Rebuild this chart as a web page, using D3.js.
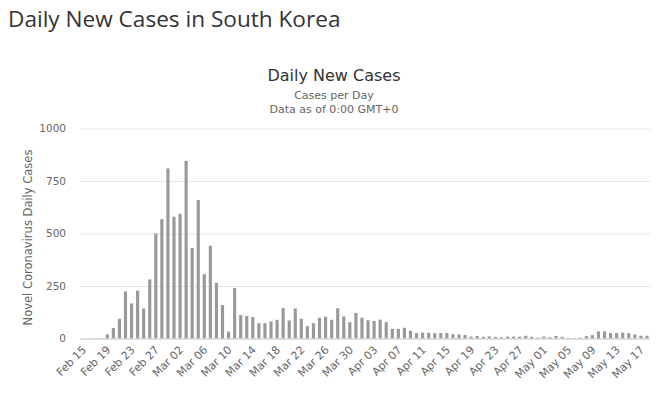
<!DOCTYPE html>
<html>
<head>
<meta charset="utf-8">
<script src="https://cdn.jsdelivr.net/npm/d3@7"></script>
<style>
  body { margin: 0; background: #fff; }
  svg text { font-family: "DejaVu Sans", "Lucida Grande", sans-serif; }
</style>
</head>
<body>
<svg id="chart" width="660" height="395"></svg>
<script>
// days from Feb 15 to May 18 (2020)
const dates = d3.timeDay.range(new Date(2020, 1, 15), new Date(2020, 4, 19));

// daily new cases
const cases = [
  0, 0, 1, 1, 20, 50, 94, 224, 167, 228, 143, 281, 500, 568,      // Feb 15 - Feb 28
  810, 580, 594, 846, 431, 659, 306, 442, 265, 159, 33, 240,     // Feb 29 - Mar 11
  112, 107, 102, 73, 73, 81, 89, 145, 86, 143, 94, 59, 73,       // Mar 12 - Mar 24
  99, 104, 89, 144, 105, 78, 122, 99, 87, 84, 90, 78, 46,        // Mar 25 - Apr 06
  46, 51, 37, 26, 28, 27, 25, 26, 26, 21, 19, 17, 9, 12,         // Apr 07 - Apr 20
  8, 10, 8, 6, 9, 9, 9, 13, 8, 4, 9, 6, 12, 8, 3, 2, 4,          // Apr 21 - May 07
  11, 16, 34, 34, 26, 26, 28, 25, 19, 13, 13                     // May 08 - May 18
];

const yTicks = [0, 250, 500, 750, 1000];

const fmtLabel = d3.timeFormat("%b %d");
const data = dates.map((d, i) => ({ date: d, key: fmtLabel(d), value: cases[i] }));
const tickDates = data.filter((d, i) => i % 4 === 0).map(d => d.key);

const svg = d3.select("#chart");
const plotLeft = 80, plotRight = 650, plotTop = 128.5, plotBottom = 338.5;

const x = d3.scaleBand()
  .domain(data.map(d => d.key))
  .range([plotLeft, plotRight])
  .paddingInner(0.48)
  .paddingOuter(0.24);

const y = d3.scaleLinear()
  .domain([0, 1000])
  .range([plotBottom, plotTop]);

// page title
svg.append("text")
  .attr("x", 8)
  .attr("y", 27)
  .attr("fill", "#333")
  .style("font-family", "'Open Sans', sans-serif")
  .style("font-size", "22.6px")
  .text("Daily New Cases in South Korea");

// chart titles
const cx = 334;
svg.append("text")
  .attr("x", cx).attr("y", 81)
  .attr("text-anchor", "middle")
  .attr("fill", "#333")
  .style("font-size", "16px")
  .text("Daily New Cases");
svg.append("text")
  .attr("x", cx).attr("y", 99)
  .attr("text-anchor", "middle")
  .attr("fill", "#666")
  .style("font-size", "11px")
  .text("Cases per Day");
svg.append("text")
  .attr("x", cx).attr("y", 113)
  .attr("text-anchor", "middle")
  .attr("fill", "#666")
  .style("font-size", "11px")
  .text("Data as of 0:00 GMT+0");

// y grid + labels
const yAxis = d3.axisLeft(y)
  .tickValues(yTicks)
  .tickFormat(d3.format("d"))
  .tickSize(-(plotRight - plotLeft))
  .tickPadding(14);

const gy = svg.append("g")
  .attr("transform", `translate(${plotLeft},0)`)
  .call(yAxis);
gy.select(".domain").remove();
gy.selectAll(".tick line").attr("stroke", "#e6e6e6");
gy.selectAll(".tick text")
  .attr("fill", "#666")
  .style("font-size", "10.5px");

svg.append("text")
  .attr("transform", `translate(32,${(plotTop + plotBottom) / 2 + 4}) rotate(-90)`)
  .attr("text-anchor", "middle")
  .attr("fill", "#666")
  .style("font-size", "11.5px")
  .text("Novel Coronavirus Daily Cases");

// bars
svg.append("g")
  .selectAll("rect")
  .data(data)
  .join("rect")
  .attr("x", d => x(d.key))
  .attr("width", x.bandwidth())
  .attr("y", d => y(d.value))
  .attr("height", d => y(0) - y(d.value))
  .attr("fill", "#999");

// x axis
const xAxis = d3.axisBottom(x)
  .tickValues(tickDates)
  .tickSize(0)
  .tickPadding(0);

const gx = svg.append("g")
  .attr("transform", `translate(0,${plotBottom})`)
  .call(xAxis);
gx.select(".domain").attr("stroke", "#ccc");
gx.selectAll(".tick text")
  .attr("fill", "#666")
  .style("font-size", "11px")
  .attr("text-anchor", "end")
  .attr("dy", null)
  .attr("y", null)
  .attr("transform", "translate(4,12) rotate(-45)");
</script>
</body>
</html>
